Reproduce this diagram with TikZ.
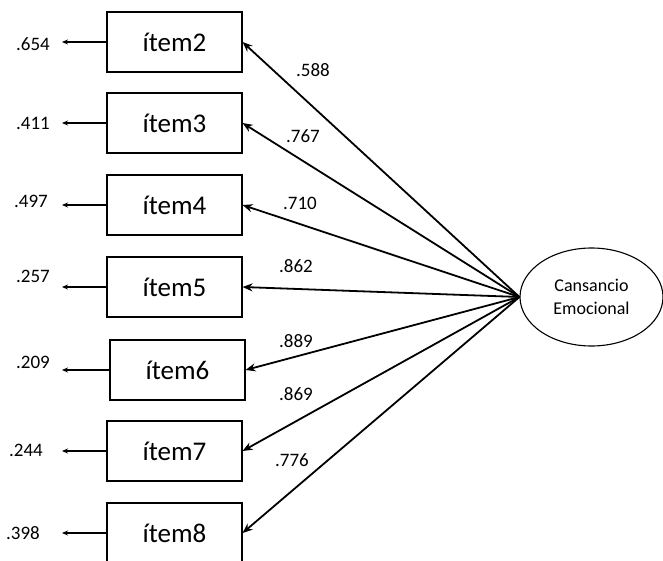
\documentclass[tikz,border=0pt]{standalone}
\usepackage{fontspec}
\setmainfont{Carlito}
\usetikzlibrary{arrows.meta,shapes.geometric}
\begin{document}
\begin{tikzpicture}[x=1pt,y=-1pt,
  itembox/.style={draw,line width=1.1pt,minimum width=135pt,minimum height=60pt,inner sep=0pt,font=\fontsize{27}{30}\selectfont},
  lvar/.style={draw,ellipse,line width=1.1pt,minimum width=143pt,minimum height=98pt,inner sep=0pt,font=\fontsize{18}{23}\selectfont,align=center},
  load/.style={line width=1.8pt,-{Stealth[length=10pt,width=8pt]}},
  err/.style={line width=1.3pt,-{Stealth[length=6pt,width=5pt]}},
  num/.style={font=\fontsize{19}{22}\selectfont,inner sep=0pt}]
\useasboundingbox (0,0) rectangle (663,561);
\node[itembox] (i2) at (174.5,42) {ítem2};
\node[itembox] (i3) at (174.5,123) {ítem3};
\node[itembox] (i4) at (174.5,205) {ítem4};
\node[itembox] (i5) at (174.5,287) {ítem5};
\node[itembox] (i6) at (177.5,370) {ítem6};
\node[itembox] (i7) at (174.5,451) {ítem7};
\node[itembox] (i8) at (174.5,533) {ítem8};
\node[lvar] (lv) at (591.5,297) {Cansancio\\Emocional};
\coordinate (e2) at (62,42);
\coordinate (e3) at (62,123);
\coordinate (e4) at (62,205);
\coordinate (e5) at (62,287);
\coordinate (e6) at (62,370);
\coordinate (e7) at (62,451);
\coordinate (e8) at (62,533);
\foreach \i in {2,...,8}{
  \draw[err] (i\i.west) -- (e\i);
  \draw[load] (lv.west) -- (i\i.east);
}
\node[num] (n2) at (33,44) {.654};
\node[num] (n3) at (33,123) {.411};
\node[num] (n4) at (31,201) {.497};
\node[num] (n5) at (33,276) {.257};
\node[num] (n6) at (33,362) {.209};
\node[num] (n7) at (26,450) {.244};
\node[num] (n8) at (23,533) {.398};
\node[num] (l2) at (313,70) {.588};
\node[num] (l3) at (303,136) {.767};
\node[num] (l4) at (300,203) {.710};
\node[num] (l5) at (296,266) {.862};
\node[num] (l6) at (296,341) {.889};
\node[num] (l7) at (296,394) {.869};
\node[num] (l8) at (292,460) {.776};
\end{tikzpicture}
\end{document}
